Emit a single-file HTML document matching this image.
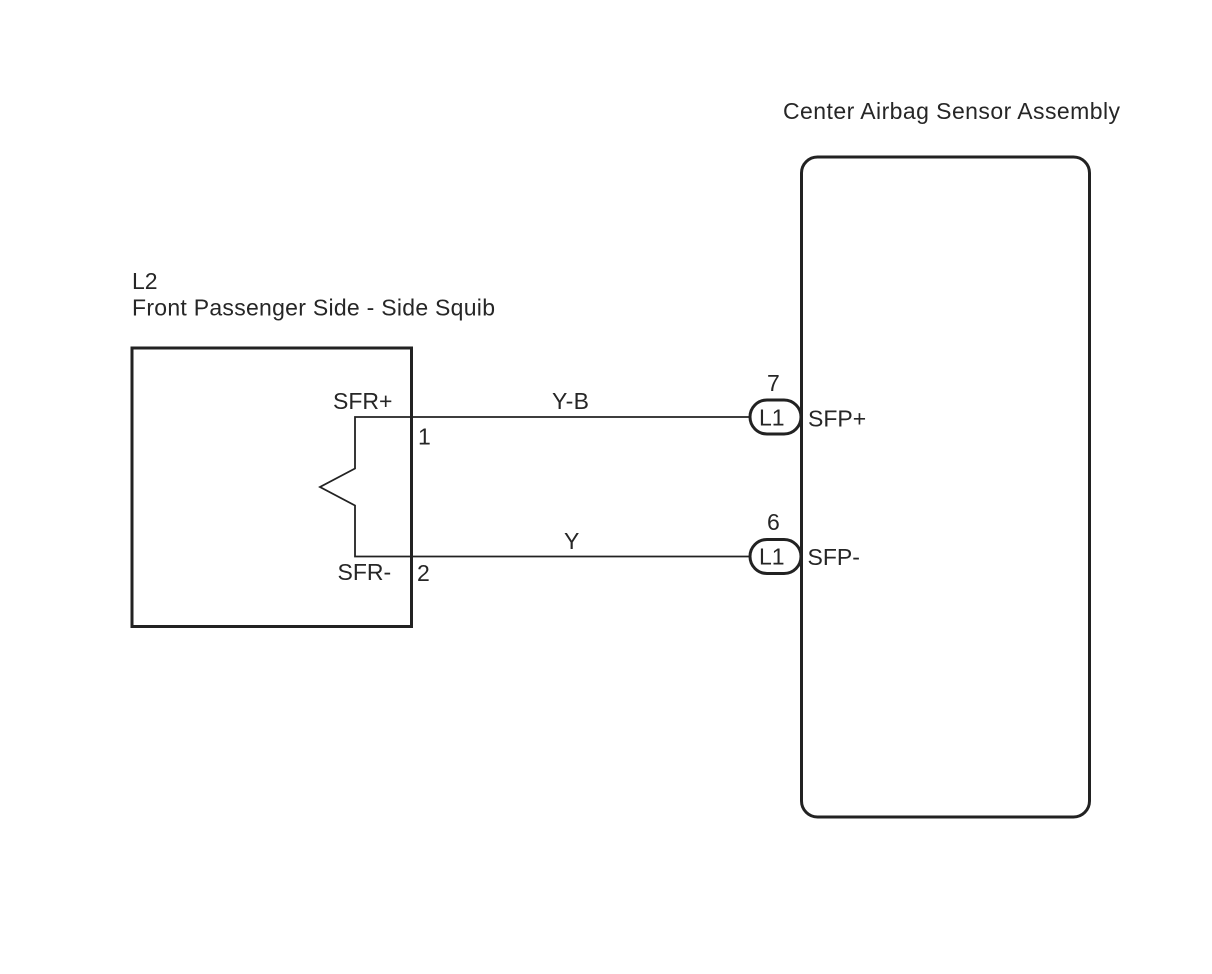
<!DOCTYPE html>
<html><head><meta charset="utf-8"><style>
html,body{margin:0;padding:0;background:#fff;width:1212px;height:974px;overflow:hidden}
svg{display:block;filter:blur(0.35px)}
text{font-family:"Liberation Sans",sans-serif;font-size:23px;fill:#262626}
</style></head><body>
<svg width="1212" height="974" viewBox="0 0 1212 974">
<rect width="1212" height="974" fill="#fff"/>
<rect x="132" y="348" width="279.500" height="278.500" fill="none" stroke="#222" stroke-width="3"/>
<polyline points="750,417 355,417 355,468.500 320,487 355,505.500 355,556.500 750,556.500" fill="none" stroke="#222" stroke-width="1.800"/>
<rect x="750" y="400" width="51" height="34" rx="17" ry="17" fill="#fff" stroke="#222" stroke-width="3"/>
<rect x="750" y="539.500" width="51" height="34" rx="17" ry="17" fill="#fff" stroke="#222" stroke-width="3"/>
<rect x="801.500" y="157" width="288" height="660" rx="16" ry="16" fill="none" stroke="#222" stroke-width="3"/>
<text x="783" y="119" textLength="337" lengthAdjust="spacing">Center Airbag Sensor Assembly</text>
<text x="132" y="289">L2</text>
<text x="132" y="315.500" textLength="363" lengthAdjust="spacing">Front Passenger Side - Side Squib</text>
<text x="333" y="409">SFR+</text>
<text x="337.500" y="580">SFR-</text>
<text x="418" y="444.500">1</text>
<text x="417" y="581">2</text>
<text x="552" y="409" textLength="37" lengthAdjust="spacing">Y-B</text>
<text x="564" y="549">Y</text>
<text x="767" y="391">7</text>
<text x="767" y="530">6</text>
<text x="759" y="425.500">L1</text>
<text x="759" y="564.500">L1</text>
<text x="808" y="426.500">SFP+</text>
<text x="807.500" y="565">SFP-</text>
</svg>
</body></html>
